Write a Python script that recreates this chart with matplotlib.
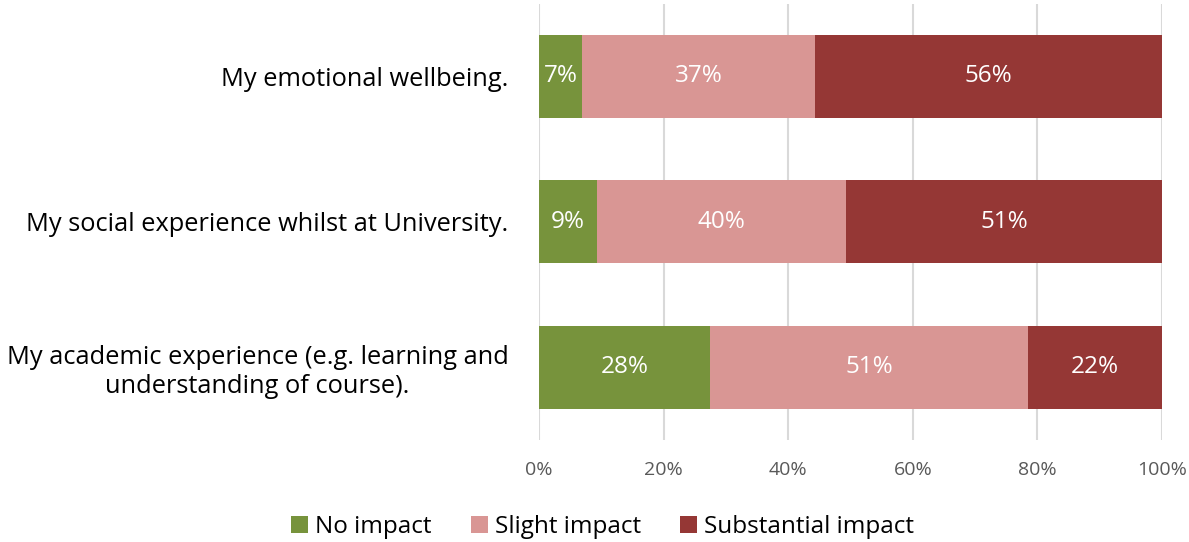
import numpy as np
import matplotlib.pyplot as plt

plt.rcParams['font.family'] = ['Open Sans', 'DejaVu Sans']

categories = ['My academic experience (e.g. learning and\nunderstanding of course).',
              'My social experience whilst at University.',
              'My emotional wellbeing.']
no_impact = [27.5, 9.3, 6.9]
slight_impact = [51.0, 40.0, 37.4]
substantial_impact = [21.5, 50.7, 55.7]
series_names = ['No impact', 'Slight impact', 'Substantial impact']
colors = ['#77933C', '#D99694', '#953735']

fig = plt.figure(figsize=(11.89, 5.42), dpi=100)
ax = fig.add_axes([0.4533, 0.188, 0.524, 0.8055])

y = np.arange(len(categories))
left = np.zeros(len(categories))
for vals, name, c in zip([no_impact, slight_impact, substantial_impact], series_names, colors):
    vals = np.array(vals)
    bars = ax.barh(y, vals, left=left, height=0.57, color=c, label=name, zorder=3)
    for b, v in zip(bars, vals):
        ax.text(b.get_x() + b.get_width() / 2, b.get_y() + b.get_height() / 2,
                f'{v:.0f}%', ha='center', va='center', color='white', fontsize=17.5, zorder=4)
    left += vals

ax.set_xlim(0, 100)
ax.set_ylim(-0.5, 2.5)
ax.set_xticks(np.arange(0, 101, 20))
ax.set_xticklabels([f'{t}%' for t in range(0, 101, 20)])
ax.set_yticks(y)
ax.set_yticklabels(categories, fontsize=18.3, color='black')
ax.tick_params(axis='x', length=0, pad=15, labelsize=14, labelcolor='#595959')
ax.tick_params(axis='y', length=0, pad=22)
for lbl in ax.get_yticklabels():
    lbl.set_horizontalalignment('right')
    lbl.set_multialignment('center')
for s in ax.spines.values():
    s.set_visible(False)
ax.grid(axis='x', color='#D9D9D9', linewidth=1.5, zorder=0)

ax.legend(loc='center', bbox_to_anchor=(0.5 - 0.4533 / 0.524 * 0.5 + 0.035, -0.2), ncol=3,
          frameon=False, fontsize=17.5, handlelength=0.7, handleheight=0.7,
          handletextpad=0.3, columnspacing=1.6)

fig.savefig('out.png', dpi=100)
